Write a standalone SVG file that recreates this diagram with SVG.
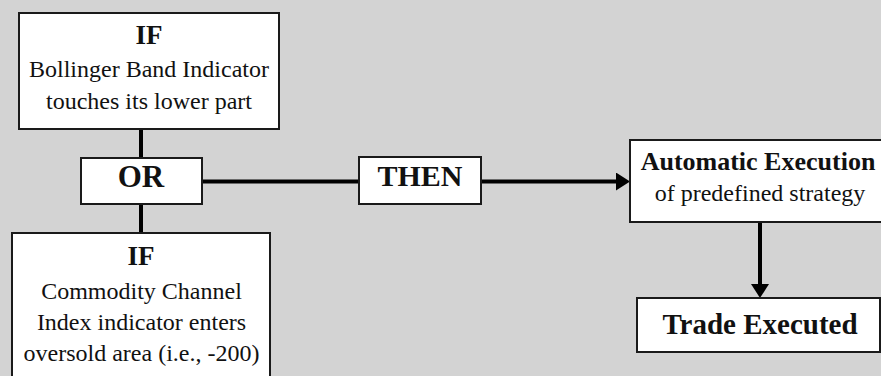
<svg xmlns="http://www.w3.org/2000/svg" width="881" height="376" viewBox="0 0 881 376">
<defs>
<marker id="ah" markerWidth="16" markerHeight="18" refX="10" refY="9" orient="auto" markerUnits="userSpaceOnUse">
<path d="M0,0 L14,9 L0,18 Z" fill="#000"/>
</marker>
</defs>
<rect width="881" height="376" fill="#d3d3d3"/>
<g id="connectors" stroke="#000" stroke-width="4" fill="none">
<line x1="141" y1="129" x2="141" y2="158"/>
<line x1="141" y1="204" x2="141" y2="233"/>
<line x1="202" y1="181.5" x2="359" y2="181.5"/>
<line x1="481" y1="181.5" x2="626" y2="181.5" marker-end="url(#ah)"/>
<line x1="760" y1="222" x2="760" y2="294" marker-end="url(#ah)"/>
</g>
<g id="if1">
<rect x="19" y="13" width="260" height="116" fill="#fff" stroke="#1a1a1a" stroke-width="2"/>
<text x="149" y="44" fill="#111" text-anchor="middle" font-weight="bold" font-family="Liberation Serif" font-size="27">IF</text>
<text x="149" y="77" fill="#111" text-anchor="middle" font-family="Liberation Serif" font-size="24">Bollinger Band Indicator</text>
<text x="149" y="109" fill="#111" text-anchor="middle" font-family="Liberation Serif" font-size="24">touches its lower part</text>
</g>
<g id="or">
<rect x="81" y="158" width="121" height="46" fill="#fff" stroke="#1a1a1a" stroke-width="2"/>
<text x="141" y="187" fill="#111" text-anchor="middle" font-weight="bold" font-family="Liberation Serif" font-size="31">OR</text>
</g>
<g id="if2">
<rect x="12" y="233" width="258" height="150" fill="#fff" stroke="#1a1a1a" stroke-width="2"/>
<text x="141" y="265" fill="#111" text-anchor="middle" font-weight="bold" font-family="Liberation Serif" font-size="27">IF</text>
<text x="141.5" y="299" fill="#111" text-anchor="middle" font-family="Liberation Serif" font-size="24">Commodity Channel</text>
<text x="141.5" y="330" fill="#111" text-anchor="middle" font-family="Liberation Serif" font-size="24">Index indicator enters</text>
<text x="141.5" y="361" fill="#111" text-anchor="middle" font-family="Liberation Serif" font-size="24">oversold area (i.e., -200)</text>
</g>
<g id="then">
<rect x="359" y="157" width="122" height="47" fill="#fff" stroke="#1a1a1a" stroke-width="2"/>
<text x="420" y="186" fill="#111" text-anchor="middle" font-weight="bold" font-family="Liberation Serif" font-size="30">THEN</text>
</g>
<g id="auto">
<rect x="630" y="140" width="255" height="82" fill="#fff" stroke="#1a1a1a" stroke-width="2"/>
<text x="758" y="170" fill="#111" text-anchor="middle" font-weight="bold" font-family="Liberation Serif" font-size="26">Automatic Execution</text>
<text x="760" y="201" fill="#111" text-anchor="middle" font-family="Liberation Serif" font-size="24">of predefined strategy</text>
</g>
<g id="trade">
<rect x="637" y="298" width="243" height="54" fill="#fff" stroke="#1a1a1a" stroke-width="2"/>
<text x="760" y="334" fill="#111" text-anchor="middle" font-weight="bold" font-family="Liberation Serif" font-size="29">Trade Executed</text>
</g>
</svg>
